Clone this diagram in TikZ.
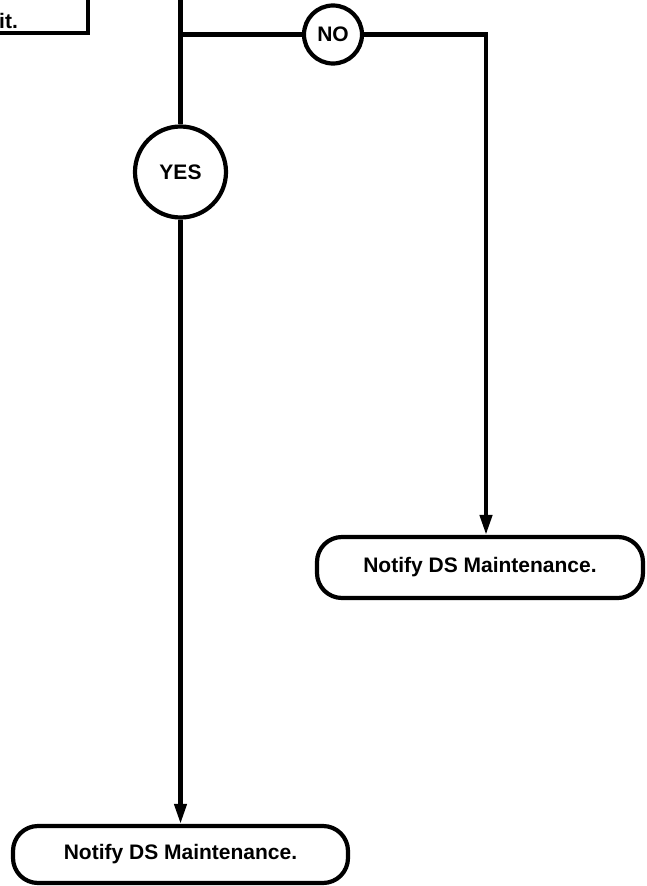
\documentclass[tikz,border=0pt]{standalone}
\usepackage{fontspec}
\setmainfont{Liberation Sans}
\usetikzlibrary{arrows.meta,positioning}

\begin{document}
\begin{tikzpicture}[x=1pt,y=-1pt,line width=4.2pt,
  txt/.style={font=\fontsize{21}{25}\selectfont\bfseries},
  term/.style={draw,txt,rounded corners=25pt,minimum height=57pt,inner sep=0pt},
  ans/.style={draw,circle,txt,inner sep=0pt},
  >={Triangle[length=20pt,width=12pt]}]
\clip (0,0) rectangle (646,886);
\draw (-120,-60) rectangle (88,33);
\node[txt,anchor=base east,inner sep=0pt] (prev) at (20,28) {it.};
\node[ans,minimum size=58pt] (no) at (333,34.5) {NO};
\node[ans,minimum size=91pt] (yes) at (180.5,172) {YES};
\node[term,minimum width=326pt,minimum height=61pt] (notifyR) at (480,567.5) {Notify DS Maintenance.};
\node[term,minimum width=335pt] (notifyL) at (180.5,854.5) {Notify DS Maintenance.};
\coordinate (top) at (180.5,-10);
\coordinate (split) at (180.5,34.5);
\coordinate (bend) at (486,34.5);
\draw (top) -- (yes);
\draw (split) -- (no);
\draw[->] (no) -- (bend) -- (bend |- notifyR.north);
\draw[->] (yes) -- (notifyL);
\end{tikzpicture}
\end{document}
